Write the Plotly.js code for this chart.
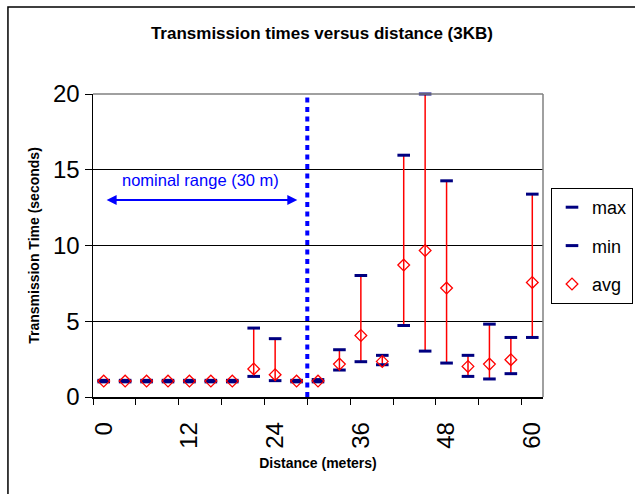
<!DOCTYPE html>
<html>
<head>
<meta charset="utf-8">
<script src="https://cdn.plot.ly/plotly-3.0.1.min.js"></script>
<style>html,body{margin:0;padding:0;background:#fff;}#chart{width:635px;height:494px;}</style>
</head>
<body>
<div id="chart"></div>
<script>
// Data (distance in meters, transmission times in seconds)
var distance = [0, 3, 6, 9, 12, 15, 18, 21, 24, 27, 30, 33, 36, 39, 42, 45, 48, 51, 54, 57, 60];
var maxTime = [1.1, 1.1, 1.1, 1.1, 1.1, 1.1, 1.1, 4.55, 3.85, 1.1, 1.15, 3.12, 8.02, 2.75, 15.96, 20.0, 14.27, 2.75, 4.81, 3.93, 13.39];
var minTime = [1.0, 1.0, 1.0, 1.0, 1.0, 1.0, 1.0, 1.36, 1.08, 1.0, 1.0, 1.78, 2.33, 2.13, 4.72, 3.03, 2.24, 1.36, 1.19, 1.54, 3.93];
var avgTime = [1.05, 1.05, 1.05, 1.05, 1.05, 1.05, 1.05, 1.85, 1.47, 1.05, 1.05, 2.17, 4.06, 2.35, 8.71, 9.67, 7.19, 2.02, 2.17, 2.46, 7.56];
var xTickLabels = [0, 12, 24, 36, 48, 60];
var xTickMarks = [-1.5, 4.5, 10.5, 16.5, 22.5, 28.5, 34.5, 40.5, 46.5, 52.5, 58.5];
var nominalRange = 28.5;

var FONT = 'Liberation Sans, Arial, sans-serif';

var traces = [
  {
    x: distance, y: minTime, type: 'scatter', mode: 'markers',
    marker: {size: 1, color: 'rgba(0,0,0,0)'},
    error_y: {type: 'data', symmetric: false,
      array: maxTime.map(function (m, i) { return m - minTime[i]; }),
      arrayminus: minTime.map(function () { return 0; }),
      color: '#ff0000', thickness: 1.5, width: 0},
    showlegend: false, hoverinfo: 'skip', cliponaxis: false
  },
  {
    x: distance, y: maxTime, name: 'max', type: 'scatter', mode: 'markers',
    marker: {symbol: 'line-ew', size: 9, color: '#000080', line: {color: '#000080', width: 3}},
    cliponaxis: false, legendgroup: 'a'
  },
  {
    x: distance, y: minTime, name: 'min', type: 'scatter', mode: 'markers',
    marker: {symbol: 'line-ew', size: 9, color: '#000080', line: {color: '#000080', width: 3}},
    cliponaxis: false, legendgroup: 'b'
  },
  {
    x: distance, y: avgTime, name: 'avg', type: 'scatter', mode: 'markers',
    marker: {symbol: 'diamond-open', size: 9, color: '#ff0000', line: {color: '#ff0000', width: 1.3}},
    cliponaxis: false, legendgroup: 'c'
  },
  {
    x: [distance[0]], y: [0], xaxis: 'x2', type: 'scatter', mode: 'markers',
    marker: {size: 1, color: 'rgba(0,0,0,0)'}, showlegend: false, hoverinfo: 'skip'
  }
];

var layout = {
  width: 635, height: 494,
  margin: {l: 93, r: 92, t: 94, b: 97},
  paper_bgcolor: '#ffffff', plot_bgcolor: '#ffffff',
  font: {family: FONT, color: '#000000'},
  title: {text: 'Transmission times versus distance (3KB)', font: {family: FONT, size: 17, weight: 'bold', color: '#000'},
    x: 0.507, xanchor: 'center', y: 0.933, yref: 'container', yanchor: 'middle'},
  xaxis: {
    range: [-1.5, 61.5], tickvals: xTickLabels, ticktext: xTickLabels.map(String),
    tickangle: -90, tickfont: {size: 24, family: FONT}, ticks: '', ticklabelstandoff: 14,
    showline: true, linecolor: '#000', linewidth: 1.5, showgrid: false, zeroline: false,
    title: {text: 'Distance (meters)', font: {size: 14, weight: 'bold', family: FONT}, standoff: 10}
  },
  xaxis2: {
    overlaying: 'x', anchor: 'y', side: 'bottom', range: [-1.5, 61.5],
    tickvals: xTickMarks, showticklabels: false, ticks: 'outside', ticklen: 7, tickwidth: 1, tickcolor: '#000',
    showgrid: false, zeroline: false, showline: false
  },
  yaxis: {
    range: [0, 20], dtick: 5, tick0: 0, ticks: 'outside', ticklen: 7, tickcolor: '#000', tickwidth: 1,
    tickfont: {size: 24, family: FONT}, showline: true, linecolor: '#000', linewidth: 1.5,
    showgrid: true, gridcolor: '#000', gridwidth: 1, zeroline: false,
    title: {text: 'Transmission Time (seconds)', font: {size: 14, weight: 'bold', family: FONT}, standoff: 10}
  },
  legend: {
    xref: 'container', yref: 'container',
    x: 551 / 635, y: 1 - 188 / 494, xanchor: 'left', yanchor: 'top',
    font: {size: 18, family: FONT}, bordercolor: '#000', borderwidth: 1, bgcolor: '#fff',
    traceorder: 'grouped', tracegroupgap: 12, itemwidth: 30
  },
  shapes: [
    {type: 'line', xref: 'paper', yref: 'paper', x0: 1, x1: 1, y0: 0, y1: 1, line: {color: '#808080', width: 1.5}},
    {type: 'line', xref: 'paper', yref: 'paper', x0: 0, x1: 1, y0: 1, y1: 1, line: {color: '#808080', width: 1.5}},
    {type: 'line', xref: 'x', yref: 'y', x0: nominalRange, x1: nominalRange, y0: 0, y1: 20,
      line: {color: '#0000ff', width: 4, dash: '5px,4.5px'}},
    {type: 'rect', xref: 'paper', yref: 'paper', x0: -0.189, x1: 1.3, y0: -0.4, y1: 1.287,
      line: {color: '#000', width: 1.5}, fillcolor: 'rgba(0,0,0,0)', layer: 'below'}
  ],
  annotations: [
    {xref: 'x', yref: 'y', x: 13.5, y: 14.3, text: 'nominal range (30 m)', showarrow: false,
      font: {size: 16.5, color: '#0000ff', family: FONT}},
    {xref: 'x', yref: 'y', x: 27.1, y: 13.0, ax: 0.2, ay: 13.0, axref: 'x', ayref: 'y',
      text: '', showarrow: true, arrowhead: 2, startarrowhead: 2, arrowside: 'end+start',
      arrowcolor: '#0000ff', arrowwidth: 2, arrowsize: 1, startarrowsize: 1, standoff: 0, startstandoff: 0}
  ]
};

Plotly.newPlot('chart', traces, layout, {displayModeBar: false, staticPlot: true});
</script>
</body>
</html>
